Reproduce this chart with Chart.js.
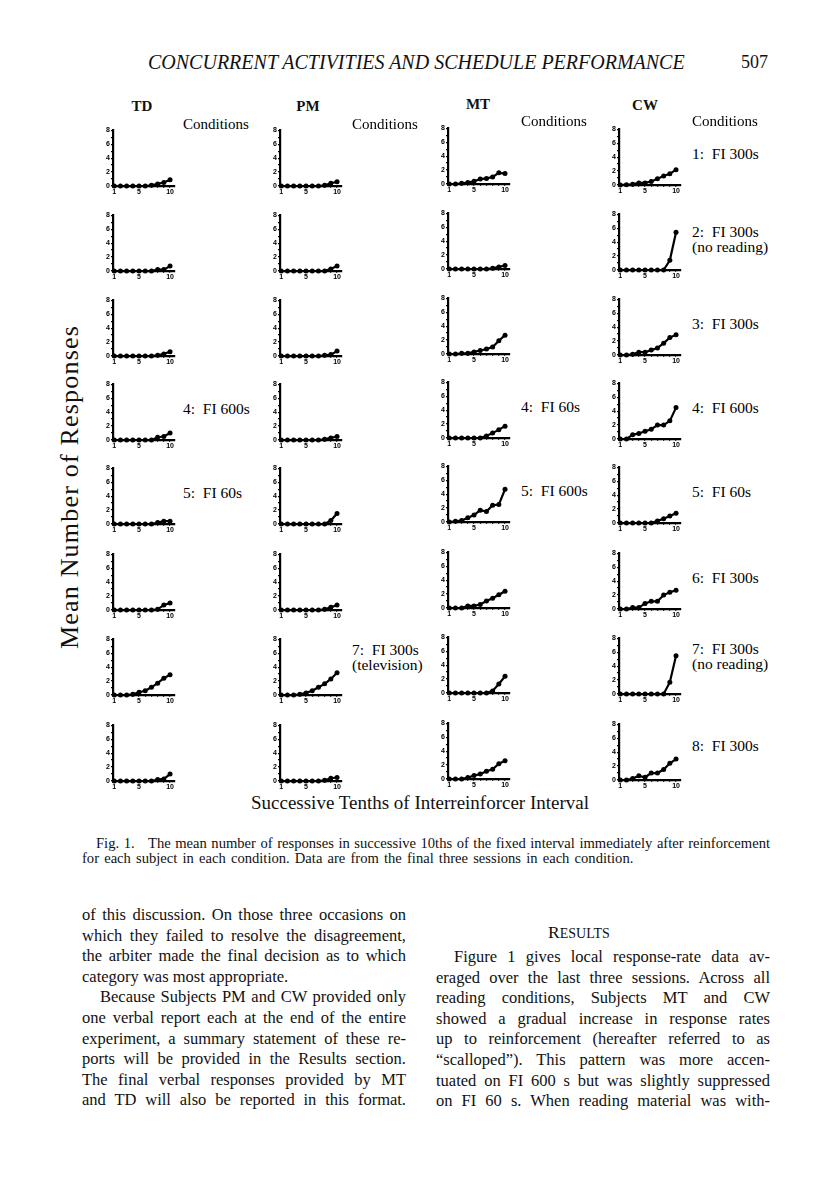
<!DOCTYPE html>
<html>
<head>
<meta charset="utf-8">
<script src="https://cdn.jsdelivr.net/npm/chart.js@4.4.0/dist/chart.umd.min.js"></script>
<style>
  html, body { margin: 0; padding: 0; background: #fff; }
  #page { position: relative; width: 816px; height: 1193px; overflow: hidden; font-family: "Liberation Serif", "DejaVu Serif", serif; color: #111; }
  .t { position: absolute; white-space: nowrap; line-height: 1; }
  canvas { position: absolute; }
  .ln { position: absolute; white-space: nowrap; font-size: 16.5px; line-height: 1; text-align: justify; text-align-last: justify; }
  .ln.last { text-align-last: left; }
</style>
</head>
<body>
<div id="page"></div>
<script>
// successive tenths of the interval (x) and axis labels
const tenths = [1, 2, 3, 4, 5, 6, 7, 8, 9, 10];
const xTickLabels = [1, 5, 10];
const yTicks = [0, 2, 4, 6, 8];
const subjects = ['TD', 'PM', 'MT', 'CW'];

// mean responses per tenth, one row per condition 1..8
const tdMeans = [
  [0, 0, 0, 0, 0, 0, 0.1, 0.3, 0.5, 0.9],
  [0, 0, 0, 0, 0, 0, 0, 0.2, 0.2, 0.7],
  [0, 0, 0, 0, 0, 0, 0, 0.1, 0.3, 0.6],
  [0, 0, 0, 0, 0, 0, 0, 0.4, 0.5, 1.0],
  [0, 0, 0, 0, 0, 0, 0, 0.2, 0.4, 0.4],
  [0, 0, 0, 0, 0, 0, 0, 0.1, 0.7, 1.0],
  [0, 0, 0, 0.1, 0.4, 0.6, 1.1, 1.7, 2.4, 2.9],
  [0, 0, 0, 0, 0, 0, 0, 0.2, 0.3, 1.0]
];
const pmMeans = [
  [0, 0, 0, 0, 0, 0, 0, 0.1, 0.4, 0.6],
  [0, 0, 0, 0, 0, 0, 0, 0, 0.3, 0.7],
  [0, 0, 0, 0, 0, 0, 0, 0.1, 0.2, 0.7],
  [0, 0, 0, 0, 0, 0, 0, 0.1, 0.3, 0.5],
  [0, 0, 0, 0, 0, 0, 0, 0, 0.5, 1.5],
  [0, 0, 0, 0, 0, 0, 0, 0.1, 0.4, 0.7],
  [0, 0, 0, 0.1, 0.3, 0.6, 1.1, 1.6, 2.3, 3.2],
  [0, 0, 0, 0, 0, 0, 0, 0.1, 0.4, 0.5]
];
const mtMeans = [
  [0, 0, 0.1, 0.2, 0.4, 0.7, 0.8, 1.0, 1.6, 1.5],
  [0, 0, 0, 0, 0, 0, 0, 0.1, 0.3, 0.5],
  [0, 0, 0.1, 0.1, 0.3, 0.5, 0.7, 1.0, 1.9, 2.7],
  [0, 0, 0, 0, 0, 0, 0.3, 0.7, 1.2, 1.7],
  [0, 0.1, 0.2, 0.6, 1.0, 1.7, 1.5, 2.4, 2.5, 4.7],
  [0, 0, 0, 0.3, 0.3, 0.5, 1.0, 1.4, 1.9, 2.4],
  [0, 0, 0, 0, 0, 0, 0, 0.3, 1.3, 2.4],
  [0, 0, 0, 0.2, 0.5, 0.7, 1.1, 1.4, 2.2, 2.6]
];
const cwMeans = [
  [0, 0.05, 0.1, 0.3, 0.3, 0.5, 0.9, 1.3, 1.6, 2.2],
  [0, 0, 0, 0, 0, 0, 0, 0, 1.4, 5.4],
  [0, 0, 0.1, 0.4, 0.4, 0.7, 1.0, 1.7, 2.5, 2.9],
  [0, 0, 0.6, 0.8, 1.1, 1.4, 2.0, 2.0, 2.6, 4.5],
  [0, 0, 0, 0, 0, 0, 0.3, 0.6, 1.0, 1.4],
  [0, 0, 0.2, 0.2, 0.8, 1.1, 1.1, 2.0, 2.4, 2.7],
  [0, 0, 0, 0, 0, 0, 0, 0, 1.7, 5.5],
  [0, 0, 0.2, 0.6, 0.4, 1.0, 1.0, 1.5, 2.4, 3.0]
];
const allMeans = [tdMeans, pmMeans, mtMeans, cwMeans];

// condition labels beside panels: [subject index, row index, lines]
const conditionLabels = [
  [0, 3, ['4:\u00a0 FI 600s']], [0, 4, ['5:\u00a0 FI 60s']],
  [1, 6, ['7:\u00a0 FI 300s', '(television)']],
  [2, 3, ['4:\u00a0 FI 60s']], [2, 4, ['5:\u00a0 FI 600s']],
  [3, 0, ['1:\u00a0 FI 300s']], [3, 1, ['2:\u00a0 FI 300s', '(no reading)']],
  [3, 2, ['3:\u00a0 FI 300s']], [3, 3, ['4:\u00a0 FI 600s']],
  [3, 4, ['5:\u00a0 FI 60s']], [3, 5, ['6:\u00a0 FI 300s']],
  [3, 6, ['7:\u00a0 FI 300s', '(no reading)']], [3, 7, ['8:\u00a0 FI 300s']]
];

// layout
const colAxisX = [113, 280, 448, 619];
const colShiftY = [0, 0, -2, -1];
const rowZeroY = [186, 271, 356, 440, 524, 610, 695, 781];
const labelX = [183, 352, 521, 692];
const labelDY = [-31, -31, -31, -31, -31, -31, -38, -34];
const AXW = 11, AXH = 10, PADT = 4, PADR = 3, PLOTW = 62, PLOTH = 57;

const page = document.getElementById('page');

function addText(txt, left, cy, size, extra) {
  const d = document.createElement('div');
  d.className = 't';
  d.textContent = txt;
  d.style.left = left + 'px';
  d.style.top = (cy - size / 2) + 'px';
  d.style.fontSize = size + 'px';
  if (extra) Object.assign(d.style, extra);
  page.appendChild(d);
  return d;
}

function makePanel(values, left, top) {
  const c = document.createElement('canvas');
  c.width = AXW + PLOTW + PADR;
  c.height = PADT + PLOTH + AXH;
  c.style.left = left + 'px';
  c.style.top = top + 'px';
  page.appendChild(c);
  const tickFont = { size: 7, weight: 'bold', family: 'Liberation Sans' };
  new Chart(c, {
    type: 'line',
    data: {
      datasets: [{
        data: tenths.map((t, i) => ({ x: t, y: values[i] })),
        borderColor: '#000', backgroundColor: '#000',
        borderWidth: 2.2, pointRadius: 2.5, pointHoverRadius: 2.5,
        pointBorderWidth: 0, tension: 0, clip: false
      }]
    },
    options: {
      responsive: false, animation: false, events: [],
      layout: { padding: { top: PADT, right: PADR, left: 0, bottom: 0 } },
      plugins: { legend: { display: false }, tooltip: { enabled: false } },
      scales: {
        x: {
          type: 'linear', min: 0.8, max: 10.8,
          afterBuildTicks: s => { s.ticks = tenths.map(v => ({ value: v })); },
          afterFit: s => { s.height = AXH; },
          ticks: { autoSkip: false, maxRotation: 0, padding: 0, font: tickFont, color: '#000',
                   callback: v => xTickLabels.includes(v) ? String(v) : '' },
          grid: { drawOnChartArea: false, color: '#000', tickLength: 2, lineWidth: 1.2 },
          border: { color: '#000', width: 2.2 }
        },
        y: {
          min: 0, max: 8,
          afterBuildTicks: s => { s.ticks = [0, 1, 2, 3, 4, 5, 6, 7, 8].map(v => ({ value: v })); },
          afterFit: s => { s.width = AXW; },
          ticks: { autoSkip: false, padding: 1, font: tickFont, color: '#000',
                   callback: v => yTicks.includes(v) ? String(v) : '' },
          grid: { drawOnChartArea: false, color: '#000', tickLength: 2, lineWidth: 1.2 },
          border: { color: '#000', width: 2.2 }
        }
      }
    }
  });
}

// panels
allMeans.forEach((rows, ci) => {
  rows.forEach((vals, ri) => {
    const zeroY = rowZeroY[ri] + colShiftY[ci];
    makePanel(vals, colAxisX[ci] - AXW, zeroY - PLOTH - PADT);
  });
});

// header
addText('CONCURRENT ACTIVITIES AND SCHEDULE PERFORMANCE', 148, 62, 20, { fontStyle: 'italic' });
addText('507', 741, 62, 18);

// subject names and "Conditions"
const subjX = [142, 308, 478, 645];
const subjY = [106, 106, 104, 105];
subjects.forEach((s, i) => {
  addText(s, subjX[i], subjY[i], 15, { fontWeight: 'bold', transform: 'translateX(-50%)' });
});
const condY = [124, 124, 121, 121];
labelX.forEach((x, i) => addText('Conditions', x, condY[i], 15, { color: '#000' }));

// condition labels
conditionLabels.forEach(([ci, ri, lines]) => {
  const zeroY = rowZeroY[ri] + colShiftY[ci];
  const cy = zeroY + labelDY[ri] - (lines.length > 1 ? 7 : 0);
  lines.forEach((ln, k) => addText(ln, labelX[ci], cy + k * 15, 15.5, { color: '#000' }));
});

// axis titles
addText('Successive Tenths of Interreinforcer Interval', 420, 802, 19, { transform: 'translateX(-50%)' });
addText('Mean Number of Responses', 70, 487, 26, { letterSpacing: '1.2px', transform: 'translate(-50%, 0) rotate(-90deg)', transformOrigin: '50% 50%' });

// caption
addText('Fig. 1.\u00a0\u00a0 The mean number of responses in successive 10ths of the fixed interval immediately after reinforcement', 96, 843, 14.6, { width: '674px', textAlign: 'justify', textAlignLast: 'justify' });
addText('for each subject in each condition. Data are from the final three sessions in each condition.', 82, 858, 14.6, { wordSpacing: '1.5px' });

// body text
const leftLines = [
  ['of this discussion. On those three occasions on', 0, 0],
  ['which they failed to resolve the disagreement,', 0, 0],
  ['the arbiter made the final decision as to which', 0, 0],
  ['category was most appropriate.', 0, 1],
  ['Because Subjects PM and CW provided only', 18, 0],
  ['one verbal report each at the end of the entire', 0, 0],
  ['experiment, a summary statement of these re-', 0, 0],
  ['ports will be provided in the Results section.', 0, 0],
  ['The final verbal responses provided by MT', 0, 0],
  ['and TD will also be reported in this format.', 0, 0]
];
const rightLines = [
  ['Figure 1 gives local response-rate data av-', 18, 0],
  ['eraged over the last three sessions. Across all', 0, 0],
  ['reading conditions, Subjects MT and CW', 0, 0],
  ['showed a gradual increase in response rates', 0, 0],
  ['up to reinforcement (hereafter referred to as', 0, 0],
  ['\u201cscalloped\u201d). This pattern was more accen-', 0, 0],
  ['tuated on FI 600 s but was slightly suppressed', 0, 0],
  ['on FI 60 s. When reading material was with-', 0, 0]
];
function addLines(lines, left, width, y0) {
  lines.forEach(([txt, indent, last], i) => {
    const d = document.createElement('div');
    d.className = 'ln' + (last ? ' last' : '');
    d.textContent = txt;
    d.style.left = (left + indent) + 'px';
    d.style.width = (width - indent) + 'px';
    d.style.top = (y0 + i * 20.6 - 8) + 'px';
    page.appendChild(d);
  });
}
addLines(leftLines, 82, 324, 915);
addLines(rightLines, 436, 334, 957);
addText('R', 548, 933, 17.5).innerHTML = 'R<span style="font-size:14px">ESULTS</span>';
</script>
</body>
</html>
